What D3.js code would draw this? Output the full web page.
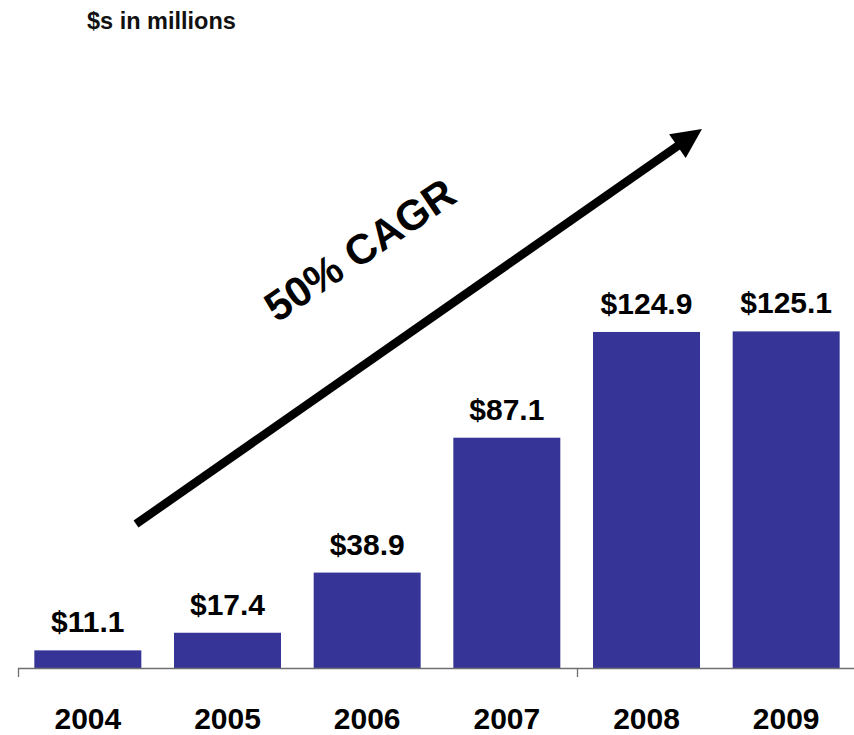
<!DOCTYPE html>
<html>
<head>
<meta charset="utf-8">
<script src="https://cdn.jsdelivr.net/npm/d3@7"></script>
<style>
  html, body { margin: 0; padding: 0; background: #fff; }
  svg { display: block; font-family: "Liberation Sans", Arial, Helvetica, sans-serif; }
</style>
</head>
<body>
<svg id="chart" width="854" height="735"></svg>
<script>
// Revenue by year, $ millions
const years = ["2004", "2005", "2006", "2007", "2008", "2009"];
const revenue = [11.1, 17.4, 38.9, 87.1, 124.9, 125.1];
const valueLabels = ["$11.1", "$17.4", "$38.9", "$87.1", "$124.9", "$125.1"];
const unitNote = "$s in millions";
const growthNote = "50% CAGR";

const svg = d3.select("#chart");
const barColor = "#363597";

const x = d3.scaleBand()
  .domain(years)
  .range([18, 856])
  .paddingInner(0.234)
  .paddingOuter(0.117);

const y = d3.scaleLinear()
  .domain([4.8, 125.1])
  .range([668, 331.4]);

// unit note
svg.append("text")
  .attr("x", 87)
  .attr("y", 29)
  .attr("font-size", 23.5)
  .attr("font-weight", "bold")
  .attr("fill", "#111")
  .text(unitNote);

// bars
svg.append("g")
  .selectAll("rect")
  .data(revenue)
  .join("rect")
  .attr("x", (d, i) => x(years[i]))
  .attr("y", d => y(d))
  .attr("width", x.bandwidth())
  .attr("height", d => y.range()[0] - y(d))
  .attr("fill", barColor);

// value labels
svg.append("g")
  .selectAll("text")
  .data(revenue)
  .join("text")
  .attr("x", (d, i) => x(years[i]) + x.bandwidth() / 2)
  .attr("y", d => y(d) - 18)
  .attr("text-anchor", "middle")
  .attr("font-size", 30)
  .attr("font-weight", "bold")
  .attr("fill", "#000")
  .text((d, i) => valueLabels[i]);

// category axis: baseline with tick marks every four categories
const axisY = y.range()[0];
const halfGap = x.step() * x.paddingInner() / 2;
const axis = svg.append("g").attr("stroke", "#6f6f6f").attr("stroke-width", 1.3);
axis.append("line")
  .attr("x1", 18).attr("x2", 854)
  .attr("y1", axisY + 0.5).attr("y2", axisY + 0.5);
[0, 4].forEach(i => {
  const tx = Math.round(x(years[i]) - halfGap) + 0.5;
  axis.append("line")
    .attr("x1", tx).attr("x2", tx)
    .attr("y1", axisY).attr("y2", axisY + 9);
});

// year labels
svg.append("g")
  .selectAll("text")
  .data(years)
  .join("text")
  .attr("x", d => x(d) + x.bandwidth() / 2)
  .attr("y", 728.5)
  .attr("text-anchor", "middle")
  .attr("font-size", 30)
  .attr("font-weight", "bold")
  .attr("fill", "#000")
  .text(d => d);

// growth arrow
const tail = [136, 524];
const tip = [702, 129];
const ang = Math.atan2(tip[1] - tail[1], tip[0] - tail[0]);
const headLen = 30, headHalf = 14.5;
const base = [tip[0] - headLen * Math.cos(ang), tip[1] - headLen * Math.sin(ang)];
svg.append("line")
  .attr("x1", tail[0]).attr("y1", tail[1])
  .attr("x2", base[0] + 2 * Math.cos(ang)).attr("y2", base[1] + 2 * Math.sin(ang))
  .attr("stroke", "#000")
  .attr("stroke-width", 8.5);
const px = -Math.sin(ang), py = Math.cos(ang);
svg.append("path")
  .attr("d", d3.line()([
    tip,
    [base[0] + px * headHalf, base[1] + py * headHalf],
    [base[0] - px * headHalf, base[1] - py * headHalf]
  ]) + "Z")
  .attr("fill", "#000");

svg.append("text")
  .attr("transform", "translate(368,262) rotate(-34)")
  .attr("text-anchor", "middle")
  .attr("font-size", 42)
  .attr("font-weight", "bold")
  .attr("fill", "#000")
  .text(growthNote);
</script>
</body>
</html>
